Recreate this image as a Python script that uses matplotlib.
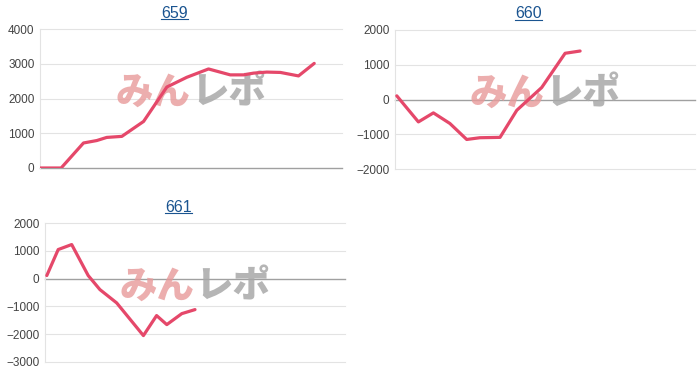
import numpy as np
import matplotlib.pyplot as plt
from matplotlib.lines import Line2D

plt.rcParams['font.family'] = ['Liberation Sans', 'Noto Sans CJK JP', 'DejaVu Sans']

# x positions are share of the fixed x range (0-100), y is the running balance
titles = ['659', '660', '661']

x_659 = [0, 7, 14.4, 18.8, 22.1, 27.1, 34.3, 42, 48.6, 55.8, 63, 67.4, 70.7, 75.1, 79.6, 85.6, 90.8]
y_659 = [0, 0, 720, 790, 880, 910, 1340, 2330, 2610, 2850, 2680, 2680, 2730, 2760, 2750, 2650, 3010]

x_660 = [0.6, 7.8, 12.8, 18.3, 23.9, 28.3, 35, 40.6, 48.9, 56.7, 61.7]
y_660 = [105, -645, -385, -690, -1150, -1100, -1090, -310, 345, 1330, 1395]

x_661 = [0.6, 4.4, 8.9, 14.4, 18.3, 23.9, 32.8, 37.2, 40.6, 45.6, 50]
y_661 = [110, 1045, 1225, 110, -395, -875, -2050, -1330, -1655, -1260, -1115]

yticks_659 = [0, 1000, 2000, 3000, 4000]
yticks_660 = [-2000, -1000, 0, 1000, 2000]
yticks_661 = [-3000, -2000, -1000, 0, 1000, 2000]

LINE = '#e5486a'
TITLE = '#1a5490'

fig = plt.figure(figsize=(7, 3.86), dpi=100)
boxes = [
    [40 / 700, 218 / 386, 302 / 700, 139 / 386],
    [395 / 700, 217 / 386, 300 / 700, 139 / 386],
    [45 / 700, 24 / 386, 300 / 700, 139 / 386],
]
series = [(x_659, y_659, yticks_659), (x_660, y_660, yticks_660), (x_661, y_661, yticks_661)]

title_texts = []
for box, (xs, ys, ticks), name in zip(boxes, series, titles):
    ax = fig.add_axes(box)
    ax.plot(xs, ys, color=LINE, lw=2.3, solid_joinstyle='round', solid_capstyle='round', zorder=3)
    ax.set_xlim(0, 100)
    ax.set_ylim(ticks[0], ticks[-1])
    ax.set_yticks(ticks)
    ax.set_xticks([])
    for t in ticks:
        if t == 0:
            ax.axhline(t, color='#a0a0a0', lw=1.0, zorder=1, clip_on=False)
        else:
            ax.axhline(t, color='#e3e3e3', lw=0.8, zorder=1, clip_on=False)
    for side in ['top', 'right', 'bottom']:
        ax.spines[side].set_visible(False)
    ax.spines['left'].set_color('#e3e3e3')
    ax.spines['left'].set_linewidth(0.8)
    ax.tick_params(axis='y', length=0, pad=4, labelsize=8.5, labelcolor='#444444')
    # watermark
    ax.text(0.5, 0.54, 'みん', transform=ax.transAxes, ha='right', va='center',
            fontsize=27, fontweight='heavy', color='#e89a9a', alpha=0.8,
            family=['Noto Sans CJK JP'], zorder=2)
    ax.text(0.5, 0.54, 'レポ', transform=ax.transAxes, ha='left', va='center',
            fontsize=27, fontweight='heavy', color='#a8a8a8', alpha=0.85,
            family=['Noto Sans CJK JP'], zorder=2)
    t = ax.text(0.445, 1 + 16 / 139, name, transform=ax.transAxes, ha='center', va='center',
                fontsize=11.5, color=TITLE)
    title_texts.append(t)

# underline the titles like links
fig.canvas.draw()
renderer = fig.canvas.get_renderer()
for t in title_texts:
    bb = t.get_window_extent(renderer)
    y = (bb.y0 + 2) / fig.bbox.height
    fig.add_artist(Line2D([bb.x0 / fig.bbox.width, bb.x1 / fig.bbox.width], [y, y],
                          color=TITLE, lw=0.8, transform=fig.transFigure))

fig.savefig('out.png', dpi=100, facecolor='white')
